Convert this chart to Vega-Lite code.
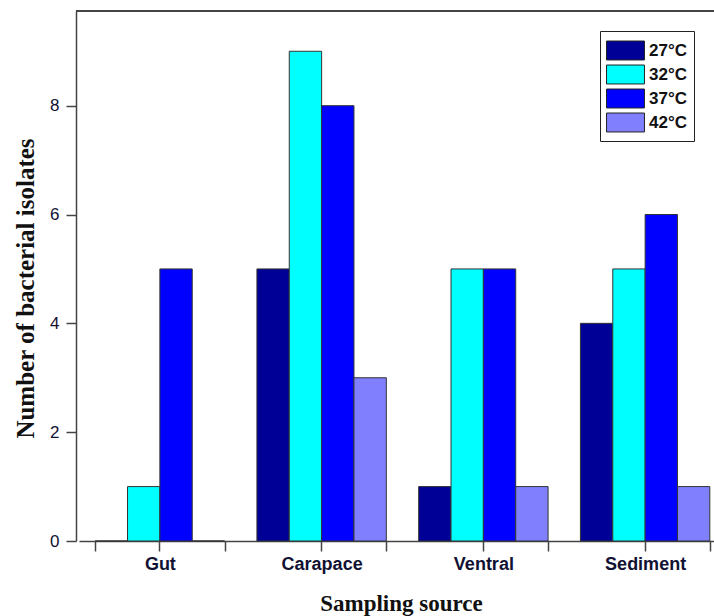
{
  "$schema": "https://vega.github.io/schema/vega-lite/v6.json",
  "width": 638,
  "height": 530,
  "autosize": {"type": "none"},
  "padding": {"left": 76, "top": 11, "right": 0, "bottom": 75},
  "background": "white",
  "config": {"view": {"stroke": null}},
  "data": {
    "values": [
      {"source": "Gut", "temp": "27°C", "count": 0},
      {"source": "Gut", "temp": "32°C", "count": 1},
      {"source": "Gut", "temp": "37°C", "count": 5},
      {"source": "Gut", "temp": "42°C", "count": 0},
      {"source": "Carapace", "temp": "27°C", "count": 5},
      {"source": "Carapace", "temp": "32°C", "count": 9},
      {"source": "Carapace", "temp": "37°C", "count": 8},
      {"source": "Carapace", "temp": "42°C", "count": 3},
      {"source": "Ventral", "temp": "27°C", "count": 1},
      {"source": "Ventral", "temp": "32°C", "count": 5},
      {"source": "Ventral", "temp": "37°C", "count": 5},
      {"source": "Ventral", "temp": "42°C", "count": 1},
      {"source": "Sediment", "temp": "27°C", "count": 4},
      {"source": "Sediment", "temp": "32°C", "count": 5},
      {"source": "Sediment", "temp": "37°C", "count": 6},
      {"source": "Sediment", "temp": "42°C", "count": 1}
    ]
  },
  "resolve": {"axis": {"x": "independent"}},
  "layer": [
    {
      "mark": {"type": "bar", "stroke": "#333333", "strokeWidth": 1},
      "encoding": {
        "x": {
          "field": "source", "type": "nominal",
          "sort": ["Gut", "Carapace", "Ventral", "Sediment"],
          "scale": {"range": [3, 650], "paddingInner": 0.2, "paddingOuter": 0.1},
          "axis": {
            "orient": "bottom",
            "title": "Sampling source",
            "titleFont": "Liberation Serif", "titleFontWeight": "bold", "titleFontSize": 23,
            "titleColor": "#111111", "titlePadding": 19, "titleX": 325,
            "labelAngle": 0,
            "labelFont": "Liberation Sans", "labelFontWeight": "bold", "labelFontSize": 18,
            "labelColor": "#111133", "labelPadding": 4,
            "tickBand": "extent", "tickSize": 10, "tickColor": "#444444", "tickWidth": 1.5,
            "domainColor": "#444444", "domainWidth": 1.5, "grid": false
          }
        },
        "xOffset": {
          "field": "temp", "type": "nominal",
          "scale": {"paddingInner": 0, "paddingOuter": 0}
        },
        "y": {
          "field": "count", "type": "quantitative",
          "scale": {"domain": [0, 9.74], "nice": false, "zero": true},
          "axis": {
            "title": "Number of bacterial isolates",
            "titleFont": "Liberation Serif", "titleFontWeight": "bold", "titleFontSize": 25,
            "titleColor": "#111111", "titlePadding": 11, "titleY": 277,
            "values": [0, 2, 4, 6, 8],
            "labelFont": "Liberation Sans", "labelFontSize": 17, "labelColor": "#111133",
            "labelPadding": 7,
            "tickSize": 10, "tickColor": "#444444", "tickWidth": 1.5,
            "domainColor": "#444444", "domainWidth": 1.5, "grid": false
          }
        },
        "color": {
          "field": "temp", "type": "nominal",
          "scale": {"domain": ["27°C", "32°C", "37°C", "42°C"], "range": ["#000096", "#00FFFF", "#0000FF", "#8080FF"]},
          "legend": {
            "title": null,
            "orient": "none", "legendX": 524, "legendY": 20,
            "strokeColor": "#222222", "fillColor": "white",
            "padding": 7,
            "symbolType": "M-1.08,-0.79H2.08V0.79H-1.08Z",
            "symbolSize": 576,
            "symbolStrokeColor": "#222222", "symbolStrokeWidth": 1, "symbolOpacity": 1,
            "labelFont": "Liberation Sans", "labelFontWeight": "bold", "labelFontSize": 17,
            "labelColor": "#111111", "labelOffset": 17, "rowPadding": 0
          }
        }
      }
    },
    {
      "mark": {"type": "rule", "opacity": 0},
      "encoding": {
        "x": {
          "field": "source", "type": "nominal",
          "sort": ["Gut", "Carapace", "Ventral", "Sediment"],
          "axis": {
            "orient": "bottom", "title": null, "labels": false, "domain": false,
            "tickBand": "center", "tickSize": 10, "tickColor": "#444444", "tickWidth": 1.5, "grid": false
          }
        }
      }
    },
    {
      "mark": {"type": "rule", "color": "#444444", "strokeWidth": 1.5},
      "encoding": {
        "y": {
          "datum": 9.74, "type": "quantitative",
          "axis": {
            "title": "Number of bacterial isolates",
            "titleFont": "Liberation Serif", "titleFontWeight": "bold", "titleFontSize": 25,
            "titleColor": "#111111", "titlePadding": 11, "titleY": 277,
            "values": [0, 2, 4, 6, 8],
            "labelFont": "Liberation Sans", "labelFontSize": 17, "labelColor": "#111133",
            "labelPadding": 7,
            "tickSize": 10, "tickColor": "#444444", "tickWidth": 1.5,
            "domainColor": "#444444", "domainWidth": 1.5, "grid": false
          }
        }
      }
    }
  ]
}
